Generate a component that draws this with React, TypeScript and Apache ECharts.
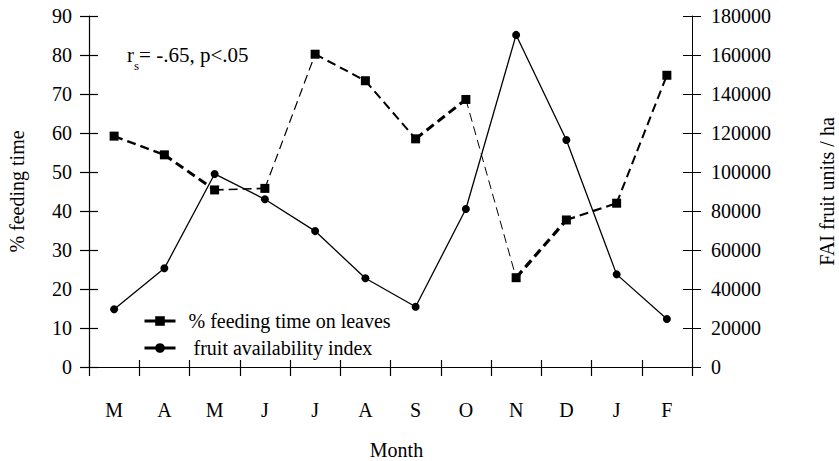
import React, { useEffect, useRef } from "react";
import * as echarts from "echarts";

const months = ["M", "A", "M", "J", "J", "A", "S", "O", "N", "D", "J", "F"];
const feedingTime = [59.2, 54.4, 45.4, 45.8, 80.2, 73.4, 58.5, 68.6, 22.9, 37.7, 42.0, 74.8];
const fruitIndex = [29600, 50600, 99000, 86000, 69700, 45500, 30900, 81000, 170300, 116400, 47500, 24600];
const leftAxis = { min: 0, max: 90, interval: 10 };
const rightAxis = { min: 0, max: 180000, interval: 20000 };
const seriesNames = ["% feeding time on leaves", " fruit availability index"];
const annotation = { r: "r", sub: "s", rest: "= -.65, p<.05" };
const axisNames = { x: "Month", left: "% feeding time", right: "FAI fruit units / ha" };

const segmentWidths = [2.4, 3, 1.6, 1.2, 2, 2, 3, 1, 3.2, 2.2, 2];

const FONT = "Times New Roman";

export default function App() {
  const ref = useRef<HTMLDivElement>(null);
  useEffect(() => {
    if (!ref.current) return;
    document.body.style.margin = "0";
    const chart = echarts.init(ref.current, null, { renderer: "svg" });
    const grid = { left: 89, right: 147, top: 16, bottom: 94, outerBoundsMode: "none", containLabel: false };
    const black = "#000";
    const plain = (v: number) => String(v);
    const segSeries = segmentWidths.map((w, i) => ({
      type: "line",
      name: "seg" + i,
      xAxisIndex: 0,
      yAxisIndex: 0,
      data: feedingTime.map((v, j) => (j === i || j === i + 1 ? v : null)),
      symbol: "none",
      connectNulls: false,
      silent: true,
      lineStyle: { color: black, width: w, type: [9, 5] },
      z: 2,
    }));
    const option: any = {
      animation: false,
      backgroundColor: "#fff",
      textStyle: { fontFamily: FONT, color: black },
      grid: [grid, { ...grid }],
      xAxis: [
        {
          type: "category",
          gridIndex: 0,
          data: months,
          position: "bottom",
          name: axisNames.x,
          nameLocation: "middle",
          nameGap: 73,
          nameTextStyle: { fontFamily: FONT, fontSize: 20, color: black, padding: [0, 0, 0, 12] },
          axisLine: { show: true, lineStyle: { color: black, width: 1.2 } },
          axisTick: { show: true, inside: false, length: 9, lineStyle: { color: black, width: 1.2 } },
          axisLabel: { fontFamily: FONT, fontSize: 20, color: black, margin: 33 },
          splitLine: { show: false },
        },
        {
          type: "category",
          gridIndex: 1,
          data: months,
          position: "bottom",
          axisLine: { show: false },
          axisTick: { show: true, inside: true, length: 7, lineStyle: { color: black, width: 1.2 } },
          axisLabel: { show: false },
          splitLine: { show: false },
        },
      ],
      yAxis: [
        {
          type: "value",
          gridIndex: 0,
          position: "left",
          ...leftAxis,
          name: axisNames.left,
          nameLocation: "middle",
          nameRotate: 90,
          nameGap: 62,
          nameTextStyle: { fontFamily: FONT, fontSize: 20, color: black },
          axisLine: { show: true, lineStyle: { color: black, width: 1.2 } },
          axisTick: { show: true, inside: false, length: 9, lineStyle: { color: black, width: 1.2 } },
          axisLabel: { fontFamily: FONT, fontSize: 20, color: black, margin: 17, formatter: plain },
          splitLine: { show: false },
        },
        {
          type: "value",
          gridIndex: 0,
          position: "right",
          ...rightAxis,
          name: axisNames.right,
          nameLocation: "middle",
          nameRotate: 90,
          nameGap: 125,
          nameTextStyle: { fontFamily: FONT, fontSize: 20, color: black },
          axisLine: { show: true, lineStyle: { color: black, width: 1 } },
          axisTick: { show: true, inside: false, length: 9, lineStyle: { color: black, width: 1 } },
          axisLabel: { fontFamily: FONT, fontSize: 20, color: black, margin: 19, formatter: plain },
          splitLine: { show: false },
        },
        {
          type: "value",
          gridIndex: 1,
          position: "left",
          ...leftAxis,
          axisLine: { show: false },
          axisTick: { show: true, inside: true, length: 9, lineStyle: { color: black, width: 1.2 } },
          axisLabel: { show: false },
          splitLine: { show: false },
        },
        {
          type: "value",
          gridIndex: 1,
          position: "right",
          ...rightAxis,
          axisLine: { show: false },
          axisTick: { show: true, inside: true, length: 9, lineStyle: { color: black, width: 1 } },
          axisLabel: { show: false },
          splitLine: { show: false },
        },
      ],
      legend: {
        data: seriesNames,
        orient: "vertical",
        left: 138,
        top: 306,
        itemWidth: 31,
        itemHeight: 12,
        itemGap: 7,
        selectedMode: false,
        textStyle: { fontFamily: FONT, fontSize: 20, color: black, padding: [0, 0, 0, 8] },
        lineStyle: { type: "solid", width: 3, opacity: 1, color: black },
        itemStyle: { color: black, opacity: 1 },
      },
      graphic: [
        {
          type: "text",
          left: 127,
          top: 44,
          style: {
            text: `{a|${annotation.r}}{b|${annotation.sub}}{a|${annotation.rest}}`,
            rich: {
              a: { fontFamily: FONT, fontSize: 21, color: black, lineHeight: 24 },
              b: { fontFamily: FONT, fontSize: 13, color: black, verticalAlign: "bottom", lineHeight: 24, padding: [0, 0, -5, 0] },
            },
          },
        },
      ],
      series: [
        ...segSeries,
        {
          type: "line",
          name: seriesNames[0],
          xAxisIndex: 0,
          yAxisIndex: 0,
          data: feedingTime,
          symbol: "rect",
          symbolSize: 9,
          showAllSymbol: true,
          itemStyle: { color: black },
          lineStyle: { opacity: 0, width: 0, color: black },
          z: 5,
        },
        {
          type: "line",
          name: seriesNames[1],
          xAxisIndex: 0,
          yAxisIndex: 1,
          data: fruitIndex,
          symbol: "circle",
          symbolSize: 8,
          showAllSymbol: true,
          itemStyle: { color: black },
          lineStyle: { color: black, width: 1.3 },
          z: 4,
        },
      ],
    };
    chart.setOption(option);
    return () => chart.dispose();
  }, []);
  return <div ref={ref} style={{ width: 839, height: 461 }} />;
}
